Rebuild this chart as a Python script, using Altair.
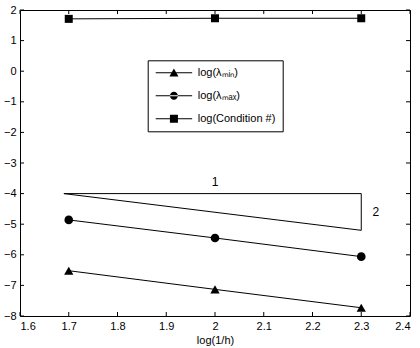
import altair as alt
import pandas as pd

# ---- data ----
x_vals = [1.7, 2.0, 2.3]
lam_min = [-6.52, -7.13, -7.73]
lam_max = [-4.86, -5.45, -6.06]
cond_num = [1.71, 1.73, 1.73]
series_names = ["log(λₘᵢₙ)", "log(λₘₐₓ)", "log(Condition #)"]

slope_x = [1.69, 2.3, 2.3, 1.69]
slope_y = [-4.0, -4.0, -5.2, -4.0]
slope_labels = ["1", "2"]
slope_label_x = [2.0, 2.33]
slope_label_y = [-3.63, -4.6]

x_ticks = [1.6, 1.7, 1.8, 1.9, 2.0, 2.1, 2.2, 2.3, 2.4]
y_ticks = [-8, -7, -6, -5, -4, -3, -2, -1, 0, 1, 2]

FONT = "Liberation Sans"
W, H = 390, 306

rows = []
for name, ys in zip(series_names, [lam_min, lam_max, cond_num]):
    for xv, yv in zip(x_vals, ys):
        rows.append({"x": xv, "y": yv, "series": name})
df = pd.DataFrame(rows)

slope_df = pd.DataFrame({"x": slope_x, "y": slope_y, "o": list(range(len(slope_x)))})
lab_df = pd.DataFrame({"x": slope_label_x, "y": slope_label_y, "t": slope_labels})
xt_df = pd.DataFrame({"x": x_ticks})
yt_df = pd.DataFrame({"y": y_ticks})

xs = alt.Scale(domain=[1.6, 2.4], nice=False, zero=False)
ys = alt.Scale(domain=[-8, 2], nice=False, zero=False)

x_axis = alt.Axis(values=x_ticks, format="~g", title="log(1/h)", ticks=False, domain=False,
                  grid=False, labelPadding=4, titlePadding=3, labelOverlap=False)
y_axis = alt.Axis(values=y_ticks, ticks=False, domain=False, grid=False, title=None,
                  labelPadding=4, labelOverlap=False)
X = alt.X("x:Q", scale=xs, axis=x_axis)
Y = alt.Y("y:Q", scale=ys, axis=y_axis)

# legend symbol paths (line + marker), unit = sqrt(size)/2
line_rect = "M-1,-0.11L7.1,-0.11L7.1,0.11L-1,0.11Z"
tri = line_rect + "M2.05,0.8L3.05,-0.95L4.05,0.8Z"
circ = line_rect + "M3.94,0A0.89,0.89 0 1,0 2.16,0A0.89,0.89 0 1,0 3.94,0Z"
sq = line_rect + "M2.16,-0.89L3.94,-0.89L3.94,0.89L2.16,0.89Z"

lines = alt.Chart(df).mark_line(color="black", strokeWidth=1).encode(
    x=X, y=Y, detail="series:N")

points = alt.Chart(df).mark_point(filled=True, color="black", opacity=1).encode(
    x=X, y=Y,
    shape=alt.Shape("series:N", scale=alt.Scale(domain=series_names,
                                                range=["triangle-up", "circle", "square"]),
                    legend=None),
    size=alt.Size("series:N", scale=alt.Scale(domain=series_names, range=[86, 64, 70]),
                  legend=None),
)

legend_layer = alt.Chart(df).transform_filter("false").mark_point(
    filled=True, color="black", opacity=1).encode(
    x=X, y=Y,
    shape=alt.Shape("series:N", scale=alt.Scale(domain=series_names, range=[tri, circ, sq]),
                    legend=alt.Legend(title=None, orient="none", legendX=127.7, legendY=50.3,
                                      strokeColor="black", fillColor="white", padding=7,
                                      symbolSize=81, labelOffset=32, rowPadding=11,
                                      labelFontSize=11, labelFont=FONT, labelColor="black",
                                      symbolStrokeWidth=0, symbolFillColor="black",
                                      symbolOpacity=1, cornerRadius=0)),
)

slope = alt.Chart(slope_df).mark_line(color="black", strokeWidth=1).encode(
    x=X, y=Y, order="o:Q")

labels = alt.Chart(lab_df).mark_text(font=FONT, fontSize=12, color="black",
                                     align="center", baseline="middle").encode(
    x=X, y=Y, text="t:N")

tick_len = 4
xt_bottom = alt.Chart(xt_df).mark_rule(color="black", strokeWidth=1).encode(
    x=X, y=alt.value(H), y2=alt.value(H - tick_len))
xt_top = alt.Chart(xt_df).mark_rule(color="black", strokeWidth=1).encode(
    x=X, y=alt.value(0), y2=alt.value(tick_len))
yt_left = alt.Chart(yt_df).mark_rule(color="black", strokeWidth=1).encode(
    y=Y, x=alt.value(0), x2=alt.value(tick_len))
yt_right = alt.Chart(yt_df).mark_rule(color="black", strokeWidth=1).encode(
    y=Y, x=alt.value(W), x2=alt.value(W - tick_len))

chart = alt.layer(
    xt_bottom, xt_top, yt_left, yt_right, slope, labels, lines, points, legend_layer
).resolve_scale(shape="independent", size="independent").properties(
    width=W, height=H,
    autosize=alt.AutoSizeParams(type="none"),
    padding={"left": 20, "top": 10, "right": 10, "bottom": 32},
    background="white",
).configure_view(stroke="black", strokeWidth=1).configure_axis(
    labelFont=FONT, labelFontSize=11, labelColor="black",
    titleFont=FONT, titleFontSize=11, titleFontWeight="normal", titleColor="black",
)

chart.save("out.html", embed_options={"renderer": "svg", "actions": False})
